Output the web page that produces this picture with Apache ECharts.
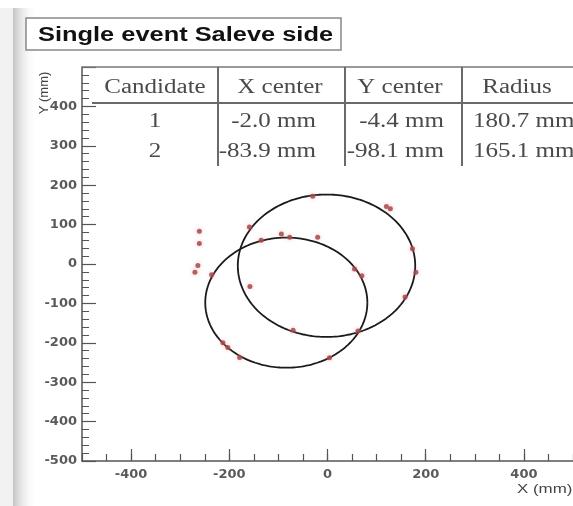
<!DOCTYPE html>
<html>
<head>
<meta charset="utf-8">
<script src="https://cdn.jsdelivr.net/npm/echarts@6/dist/echarts.min.js"></script>
<style>
html,body{margin:0;padding:0;background:#fff;}
#c{width:573px;height:506px;}
</style>
</head>
<body>
<div id="c"></div>
<script>
// ---- data ----
const title = 'Single event Saleve side';
const tableHeader = ['Candidate', 'X center', 'Y center', 'Radius'];
const candidates = ['1', '2'];
const xCenters = [-2.0, -83.9];
const yCenters = [-4.4, -98.1];
const radii = [180.7, 165.1];
const hitX = [-30, 120, 128, 173, 180, 158, -261, -261, -264, -270, -236, -159, -135, -94, -77, -20, 55, 70, -158, -70, 62, -213, -203, -179, 4];
const hitY = [172, 146, 140, 39, -21, -84, 83, 52, -4, -21, -27, 94, 60, 76, 68, 68, -13, -30, -57, -168, -170, -200, -212, -237, -238];
const xLabelTicks = [-400, -200, 0, 200, 400];
const xName = 'X (mm)';
const yName = 'Y (mm)';

// ---- build ----
const hits = hitX.map((x, i) => [x, hitY[i]]);
function ring(cx, cy, r) {
  const pts = [];
  const n = 240;
  for (let k = 0; k <= n; k++) {
    const t = 2 * Math.PI * k / n;
    pts.push([cx + r * Math.cos(t), cy + r * Math.sin(t)]);
  }
  return pts;
}
const fmt = v => v.toFixed(1) + ' mm';

const G = {left: 82, top: 67, width: 492, height: 394};
const axisCol = '#555';
const labelFont = {fontFamily: 'DejaVu Sans', fontWeight: 'bold', fontSize: 13, color: '#5a5a5a'};

const graphics = [];
// left shadow strip
graphics.push({type: 'rect', z: 0, silent: true, shape: {x: 0, y: 8, width: 13, height: 498}, style: {fill: '#f2f2f2'}});
graphics.push({type: 'rect', z: 0, silent: true, shape: {x: 13, y: 8, width: 24, height: 498},
  style: {fill: new echarts.graphic.LinearGradient(0, 0, 1, 0, [{offset: 0, color: '#c4c4c4'}, {offset: 1, color: 'rgba(255,255,255,0)'}])}});
// title box
graphics.push({type: 'rect', z: 10, shape: {x: 26, y: 18, width: 315, height: 32}, style: {fill: '#fff', stroke: '#888', lineWidth: 1.5}});
graphics.push({type: 'text', z: 11, x: 38, y: 35, scaleX: 1.27,
  style: {text: title, font: 'bold 20px "Liberation Sans", Arial, sans-serif', fill: '#111', textVerticalAlign: 'middle', textAlign: 'left'}});
// table lines
const lineStyle = {stroke: '#6a6a6a', lineWidth: 2};
graphics.push({type: 'line', z: 10, shape: {x1: 82, y1: 67, x2: 573, y2: 67}, style: {stroke: '#777', lineWidth: 1.5}});
graphics.push({type: 'line', z: 10, shape: {x1: 92, y1: 103, x2: 573, y2: 103}, style: lineStyle});
[218, 345, 462].forEach(x => graphics.push({type: 'line', z: 10, shape: {x1: x, y1: 67, x2: x, y2: 166}, style: lineStyle}));
// table text
const serif = '20px "Liberation Serif", "Times New Roman", serif';
const txtCol = '#4a4a4a';
const headerX = [155, 280, 400, 517];
tableHeader.forEach((t, i) => graphics.push({type: 'text', z: 11, x: headerX[i], y: 88, scaleX: 1.25,
  style: {text: t, font: serif, fill: txtCol, textAlign: 'center', textVerticalAlign: 'middle'}}));
const rowY = [122, 152];
candidates.forEach((c, j) => {
  graphics.push({type: 'text', z: 11, x: 155, y: rowY[j], scaleX: 1.25, style: {text: c, font: serif, fill: txtCol, textAlign: 'center', textVerticalAlign: 'middle'}});
  graphics.push({type: 'text', z: 11, x: 316, y: rowY[j], scaleX: 1.25, style: {text: fmt(xCenters[j]), font: serif, fill: txtCol, textAlign: 'right', textVerticalAlign: 'middle'}});
  graphics.push({type: 'text', z: 11, x: 444, y: rowY[j], scaleX: 1.25, style: {text: fmt(yCenters[j]), font: serif, fill: txtCol, textAlign: 'right', textVerticalAlign: 'middle'}});
  graphics.push({type: 'text', z: 11, x: 473, y: rowY[j], scaleX: 1.25, style: {text: fmt(radii[j]), font: serif, fill: txtCol, textAlign: 'left', textVerticalAlign: 'middle'}});
});
// axis names
graphics.push({type: 'text', z: 11, x: 44, y: 93, rotation: Math.PI / 2,
  style: {text: yName, font: '13px "Liberation Sans", Arial, sans-serif', fill: '#444', textAlign: 'center', textVerticalAlign: 'middle'}});
graphics.push({type: 'text', z: 11, x: 517, y: 489, scaleX: 1.3,
  style: {text: xName, font: '13px "Liberation Sans", Arial, sans-serif', fill: '#444', textAlign: 'left', textVerticalAlign: 'middle'}});

const chart = echarts.init(document.getElementById('c'), null, {renderer: 'canvas'});
chart.setOption({
  animation: false,
  backgroundColor: '#fff',
  grid: Object.assign({containLabel: false}, G),
  xAxis: [
    {
      type: 'value', min: -500, max: 500, interval: 50, position: 'bottom',
      axisLine: {show: true, onZero: false, lineStyle: {color: axisCol, width: 1.5}},
      axisTick: {show: true, inside: true, length: 7, lineStyle: {color: axisCol, width: 1.2}},
      axisLabel: {show: false}, splitLine: {show: false}
    },
    {
      type: 'value', min: -500, max: 500, interval: 100, position: 'bottom',
      axisLine: {show: false, onZero: false},
      axisTick: {show: true, inside: true, length: 12, customValues: xLabelTicks, lineStyle: {color: axisCol, width: 1.2}},
      axisLabel: Object.assign({show: true, margin: 7, customValues: xLabelTicks}, labelFont),
      splitLine: {show: false}
    }
  ],
  yAxis: {
    type: 'value', min: -500, max: 500, interval: 100,
    axisLine: {show: true, onZero: false, lineStyle: {color: axisCol, width: 1.5}},
    axisTick: {show: true, inside: true, length: 14, lineStyle: {color: axisCol, width: 1.2}},
    minorTick: {show: true, splitNumber: 5, length: 7, lineStyle: {color: axisCol, width: 1}},
    axisLabel: Object.assign({margin: 5, formatter: v => (v === 500 ? '' : String(v))}, labelFont),
    splitLine: {show: false}
  },
  series: [
    {type: 'line', xAxisIndex: 0, data: ring(xCenters[0], yCenters[0], radii[0]), showSymbol: false, silent: true,
      lineStyle: {color: '#1a1a1a', width: 1.8}, z: 3},
    {type: 'line', xAxisIndex: 0, data: ring(xCenters[1], yCenters[1], radii[1]), showSymbol: false, silent: true,
      lineStyle: {color: '#1a1a1a', width: 1.8}, z: 3},
    {type: 'scatter', xAxisIndex: 0, data: hits, symbol: 'circle', symbolSize: 5,
      itemStyle: {color: '#a84848', opacity: 0.85, shadowBlur: 4, shadowColor: 'rgba(230,130,130,0.6)'}, z: 4}
  ],
  graphic: graphics
});
</script>
</body>
</html>
